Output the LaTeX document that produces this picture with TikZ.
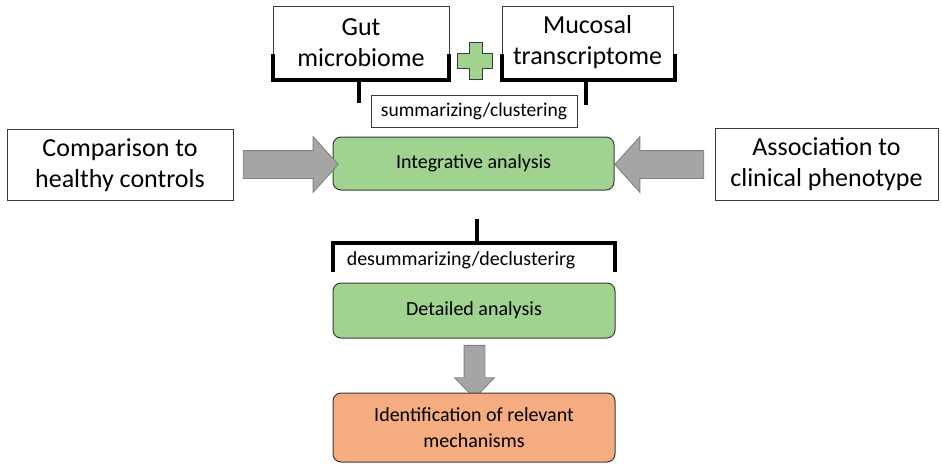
\documentclass[tikz,border=0pt]{standalone}
\usepackage{fontspec}
\setmainfont{Carlito}
\usetikzlibrary{shapes.arrows}
\definecolor{gfill}{HTML}{A0D290}
\definecolor{ofill}{HTML}{F4AC80}
\definecolor{afill}{HTML}{A5A5A5}
\definecolor{aline}{HTML}{7F7F7F}
\definecolor{bline}{HTML}{3A3A3A}
\begin{document}
\begin{tikzpicture}[x=1pt,y=-1pt,
  wbox/.style={draw=bline, line width=0.8pt, fill=white, align=center, inner sep=0pt, font=\fontsize{26}{31}\selectfont},
  sbox/.style={draw=bline, line width=0.8pt, fill=white, align=center, inner sep=0pt, font=\fontsize{19.5}{22}\selectfont},
  rbox/.style={draw=bline, line width=1pt, rounded corners=8pt, align=center, inner sep=0pt, font=\fontsize{20}{26}\selectfont},
  bigarrow/.style={single arrow, draw=aline, fill=afill, line width=0.8pt, inner xsep=0pt, inner ysep=13.5pt, single arrow head extend=14pt, single arrow tip angle=96},
  bracket/.style={line width=4pt, black},
]
\useasboundingbox (0,0) rectangle (942,463);
% top boxes
\node[wbox, minimum width=176, minimum height=73] (gut) at (361,42.5) {Gut\\microbiome};
\node[wbox, minimum width=171, minimum height=73] (muc) at (587.5,42.5) {Mucosal\\transcriptome};
% plus sign
\draw[draw=bline, line width=0.7pt, fill=gfill] (457,53) -- (469,53) -- (469,42) -- (482,42) -- (482,53) -- (492,53) -- (492,68) -- (482,68) -- (482,79) -- (469,79) -- (469,68) -- (457,68) -- cycle;
% brackets
\draw[bracket] (273,54) -- (273,80) -- (449,80) -- (449,54);
\draw[bracket] (502,54) -- (502,80) -- (675,80) -- (675,54);
\coordinate (gstem) at (359,80);
\coordinate (mstem) at (586,80);
\draw[bracket] (gstem) -- ++(0,23);
\draw[bracket] (mstem) -- ++(0,25);
\node[sbox, minimum width=206, minimum height=32] (summ) at (474,111) {summarizing/clustering};
% side boxes
\node[wbox, minimum width=226, minimum height=71] (comp) at (120,165) {Comparison to\\healthy controls};
\node[wbox, minimum width=223, minimum height=72] (assoc) at (826.5,164.5) {Association to\\clinical phenotype};
% integrative
\node[rbox, fill=gfill, minimum width=281, minimum height=53] (integ) at (473.5,163.5) {Integrative analysis};
\node[bigarrow, minimum height=95, minimum width=55] (arrR) at (284.5,164.5) {};
\node[bigarrow, minimum height=89, minimum width=55, shape border rotate=180] (arrL) at (665.5,164.5) {};
% lower bracket
\coordinate (lstem) at (477,219);
\draw[bracket] (lstem) -- (477,243);
\draw[bracket] (333,272) -- (333,243) -- (615,243) -- (615,272);
\node[font=\fontsize{20}{22}\selectfont, inner sep=0pt] (desum) at (461,260) {desummarizing/declusterirg};
% detailed
\node[rbox, fill=gfill, minimum width=282, minimum height=55] (det) at (474,310.5) {Detailed analysis};
\node[bigarrow, minimum height=53, minimum width=39, inner sep=10pt, single arrow head extend=9.5pt, single arrow tip angle=88, shape border rotate=270] (arrD) at (474.5,366.5) {};
\node[rbox, fill=ofill, minimum width=282, minimum height=69] (ident) at (474,427.5) {Identification of relevant\\mechanisms};
\end{tikzpicture}
\end{document}
